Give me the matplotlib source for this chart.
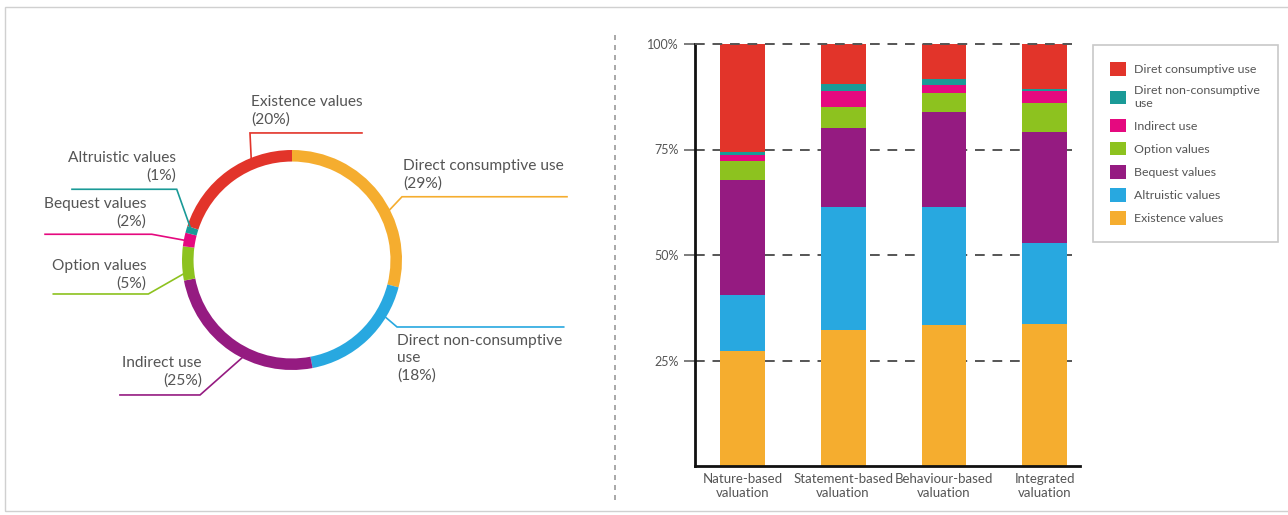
import matplotlib
matplotlib.use("Agg")
import matplotlib.pyplot as plt
import numpy as np
from matplotlib.patches import Patch, Rectangle
from matplotlib.lines import Line2D

plt.rcParams['font.family'] = ['Lato', 'DejaVu Sans']

# ---- data: donut (share of studies by value type) ----
pie_labels = ['Direct consumptive use', 'Direct non-consumptive\nuse', 'Indirect use',
              'Option values', 'Bequest values', 'Altruistic values', 'Existence values']
pie_values = [29, 18, 25, 5, 2, 1, 20]

# ---- data: stacked bars per valuation method ----
methods = ['Nature-based\nvaluation', 'Statement-based\nvaluation',
           'Behaviour-based\nvaluation', 'Integrated\nvaluation']
existence = [27.3, 32.2, 33.4, 33.6]
altruistic = [13.2, 29.2, 28.0, 19.2]
bequest = [27.2, 18.6, 22.6, 26.4]
option = [4.5, 5.0, 4.5, 6.9]
indirect = [1.4, 3.8, 1.7, 2.7]
direct_non = [0.7, 1.8, 1.6, 0.6]
direct_cons = [25.7, 9.4, 8.2, 10.6]
series_names = ['Existence values', 'Altruistic values', 'Bequest values', 'Option values',
                'Indirect use', 'Diret non-consumptive\nuse', 'Diret consumptive use']
y_ticks = [25, 50, 75, 100]

# colours
YEL, BLU, PUR, GRN, PNK, TEA, RED = ('#f5ad2f', '#28a8e0', '#951b81', '#8dc21f',
                                     '#e5097f', '#1a9a97', '#e2342a')
pie_colors = [YEL, BLU, PUR, GRN, PNK, TEA, RED]
bar_colors = [YEL, BLU, PUR, GRN, PNK, TEA, RED]
TXT = '#555555'

W, H = 1288, 515
fig = plt.figure(figsize=(W / 100, H / 100), dpi=100)
fig.patch.set_facecolor('white')

# light frame + dashed separator
fig.add_artist(Rectangle((5 / W, 4 / H), 1.0, (511 - 7) / H, transform=fig.transFigure,
                         fill=False, edgecolor='#d0d0d0', lw=1.0))
fig.add_artist(Line2D([615 / W, 615 / W], [(H - 500) / H, (H - 32) / H],
                      transform=fig.transFigure, color='#9a9a9a', lw=1.2,
                      linestyle=(0, (3, 3))))

# ---------------- donut ----------------
cx, cy, R = 292, 260, 110  # pixel centre / radius
axp = fig.add_axes([0, 0, 610 / W, 1])
axp.pie(pie_values, colors=pie_colors, startangle=90, counterclock=False,
        wedgeprops=dict(width=0.105, edgecolor='none'))
axp.set_xlim(-cx / R, (610 - cx) / R)
axp.set_ylim((cy - H) / R, cy / R)
axp.set_aspect('equal')
axp.axis('off')

# leader layout: attach angle, elbow point, end x, text anchor, ha, va
layout = [
    (26.6, (1.00, 0.575), 2.50, (1.01, 0.63), 'left', 'bottom'),
    (-31.2, (0.955, -0.609), 2.47, (0.955, -0.67), 'left', 'top'),
    (-116.4, (-0.836, -1.227), -1.564, (-0.82, -1.16), 'right', 'bottom'),
    (186.7, (-1.306, -0.309), -2.17, (-1.324, -0.28), 'right', 'bottom'),
    (169.6, (-1.275, 0.234), -2.245, (-1.324, 0.28), 'right', 'bottom'),
    (162.3, (-1.048, 0.643), -2.00, (-1.055, 0.70), 'right', 'bottom'),
    (112.4, (-0.382, 1.155), 0.636, (-0.375, 1.21), 'left', 'bottom'),
]
for lab, val, col, (ang, elbow, xend, txy, ha, va) in zip(pie_labels, pie_values, pie_colors, layout):
    a = np.deg2rad(ang)
    p0 = (0.97 * np.cos(a), 0.97 * np.sin(a))
    axp.plot([p0[0], elbow[0], xend], [p0[1], elbow[1], elbow[1]], color=col, lw=1.2,
             solid_joinstyle='miter', zorder=1)
    axp.text(txy[0], txy[1], f'{lab}\n({val}%)', ha=ha, va=va, multialignment=ha,
             fontsize=11.2, color=TXT, linespacing=1.3)

# ---------------- stacked bars ----------------
axb = fig.add_axes([695 / W, (H - 466) / H, (1080 - 695) / W, (466 - 44) / H])
x = np.arange(len(methods))
series = [existence, altruistic, bequest, option, indirect, direct_non, direct_cons]
bottom = np.zeros(len(methods))
handles = []
for name, vals, col in zip(series_names, series, bar_colors):
    axb.bar(x, vals, 0.445, bottom=bottom, color=col, edgecolor='none', zorder=2)
    bottom += np.array(vals)
    handles.append(Patch(facecolor=col, edgecolor='none', label=name))

axb.set_xlim(-0.47, 3.35)
axb.set_ylim(0, 100)
axb.set_yticks(y_ticks)
axb.set_yticklabels([f'{t}%' for t in y_ticks])
axb.set_xticks(x)
axb.set_xticklabels(methods, linespacing=1.2)
axb.tick_params(axis='y', length=8, width=1.2, color='#666666', pad=4,
                labelsize=9, labelcolor=TXT)
axb.tick_params(axis='x', length=0, pad=5, labelsize=9.5, labelcolor=TXT)
for t in y_ticks:
    axb.axhline(t, xmin=0, xmax=(1072 - 695) / (1080 - 695), color='#555555', lw=1.4,
                linestyle=(0, (5, 4)), zorder=1 if t < 100 else 3, clip_on=False)
for s in ['top', 'right']:
    axb.spines[s].set_visible(False)
for s in ['left', 'bottom']:
    axb.spines[s].set_color('#111111')
    axb.spines[s].set_linewidth(2)

leg = fig.legend(handles=handles[::-1], loc='upper left',
                 bbox_to_anchor=(1093 / W, (H - 45) / H), frameon=True, fancybox=False,
                 fontsize=8.9, labelcolor=TXT, handlelength=1.3, handleheight=1.3,
                 handletextpad=0.65, labelspacing=0.78, borderpad=1.4, borderaxespad=0)
leg.get_frame().set_edgecolor('#bbbbbb')
leg.get_frame().set_linewidth(1.2)

fig.savefig('out.png', dpi=100, facecolor='white')
